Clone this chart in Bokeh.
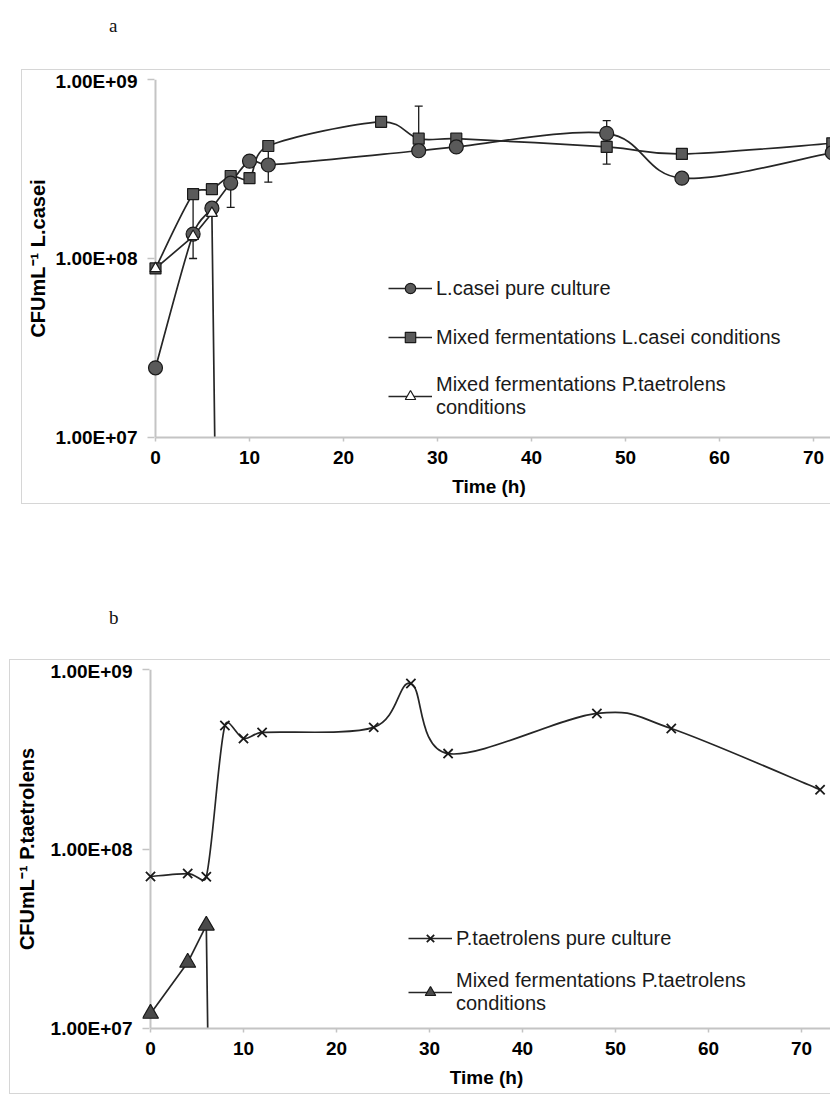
import numpy as np
from bokeh.plotting import figure
from bokeh.models import (Range1d, FixedTicker, SingleIntervalTicker, CustomJSTickFormatter,
                          Legend, LegendItem, Whisker, ColumnDataSource, Div, Span)
from bokeh.layouts import column
from bokeh.embed import file_html
from bokeh.resources import INLINE

# ---------------- data : panel a (L. casei counts, CFU/mL) ----------------
a_time_pure = [0, 4, 6, 8, 10, 12, 28, 32, 48, 56, 72]
a_lcasei_pure = [2.45e7, 1.37e8, 1.91e8, 2.64e8, 3.5e8, 3.33e8, 4.0e8, 4.2e8, 5.0e8, 2.81e8, 3.9e8]

a_time_mixed_lc = [0, 4, 6, 8, 10, 12, 24, 28, 32, 48, 56, 72]
a_lcasei_mixed_lc = [8.8e7, 2.29e8, 2.44e8, 2.89e8, 2.81e8, 4.25e8, 5.8e8, 4.67e8, 4.67e8, 4.2e8, 3.84e8, 4.4e8]

# last value: no viable count (drawn as 1 CFU/mL, far below the axis)
a_time_mixed_pt = [0, 4, 6, 8]
a_lcasei_mixed_pt = [8.8e7, 1.33e8, 1.79e8, 1.0]

a_err_time_pure = [4, 8, 12, 48]
a_err_low_pure = [1.0e8, 1.93e8, 2.67e8, 4.5e8]
a_err_high_pure = [2.2e8, 2.96e8, 4.0e8, 5.89e8]

a_err_time_mixed = [28, 48]
a_err_low_mixed = [4.3e8, 3.37e8]
a_err_high_mixed = [7.1e8, 4.6e8]

# ---------------- data : panel b (P. taetrolens counts, CFU/mL) ----------------
b_time_pure = [0, 4, 6, 8, 10, 12, 24, 28, 32, 48, 56, 72]
b_ptaet_pure = [7.03e7, 7.3e7, 7.0e7, 4.88e8, 4.13e8, 4.46e8, 4.76e8, 8.36e8, 3.4e8, 5.69e8, 4.69e8, 2.14e8]

b_time_mixed = [0, 4, 6, 8]
b_ptaet_mixed = [1.21e7, 2.33e7, 3.75e7, 1.0]

y_ticks = [1e7, 1e8, 1e9]

legend_a = ["L.casei pure culture",
            "Mixed fermentations L.casei conditions",
            "Mixed fermentations P.taetrolens\nconditions"]
legend_b = ["P.taetrolens pure culture",
            "Mixed fermentations P.taetrolens\nconditions"]
ytitle_a = "CFUmL\u207b\u00b9 L.casei"
ytitle_b = "CFUmL\u207b\u00b9 P.taetrolens"

FONT = "Liberation Sans"
LINE = "#262626"
EDGE = "#1a1a1a"
GREY = "#5a5a5a"
AXIS = "#c4c4c4"


def smooth(ts, vs, kx, ky):
    """Bezier control points for an Excel-like smoothed line (computed in screen-proportional space)."""
    X = np.asarray(ts, float) * kx
    Y = np.log10(np.asarray(vs, float)) * ky
    P = np.column_stack([X, Y])
    n = len(P)
    out = {k: [] for k in ("x0", "y0", "x1", "y1", "cx0", "cy0", "cx1", "cy1")}
    for i in range(n - 1):
        p0, p1, p2, p3 = P[max(i - 1, 0)], P[i], P[i + 1], P[min(i + 2, n - 1)]
        d12 = np.hypot(*(p2 - p1))
        d02 = np.hypot(*(p2 - p0))
        d13 = np.hypot(*(p3 - p1))
        f1 = min(1 / 6, d12 / (2 * d02)) if d02 > 0 else 0.0
        f2 = min(1 / 6, d12 / (2 * d13)) if d13 > 0 else 0.0
        c1 = p1 + (p2 - p0) * f1
        c2 = p2 - (p3 - p1) * f2
        for (kxk, kyk), pt in zip((("x0", "y0"), ("cx0", "cy0"), ("cx1", "cy1"), ("x1", "y1")),
                                  (p1, c1, c2, p2)):
            out[kxk].append(pt[0] / kx)
            out[kyk].append(10 ** (pt[1] / ky))
    return ColumnDataSource(out)


def make_fig(width, height, left, bottom, x_start, x_end, ytitle, ytitle_standoff):
    p = figure(width=width, height=height, x_range=Range1d(x_start, x_end),
               y_range=Range1d(1e7, 1e9), y_axis_type="log",
               output_backend="svg", toolbar_location=None,
               min_border_left=left, min_border_right=0, min_border_top=9,
               min_border_bottom=bottom)
    p.frame_align = False
    p.outline_line_color = None
    p.grid.visible = False
    p.background_fill_color = "white"
    p.border_fill_color = "white"

    ya = p.yaxis[0]
    ya.ticker = FixedTicker(ticks=y_ticks, minor_ticks=[])
    ya.formatter = CustomJSTickFormatter(
        code="const e = Math.round(Math.log10(tick)); return '1.00E+' + (e < 10 ? '0' : '') + e;")
    ya.axis_line_color = None
    ya.major_tick_out = 0
    ya.major_tick_in = 7
    ya.major_label_standoff = 10
    ya.axis_label = ytitle
    ya.axis_label_standoff = ytitle_standoff
    ya.axis_label_text_font_size = "20px"

    xa = p.xaxis[0]
    xa.ticker = SingleIntervalTicker(interval=10, num_minor_ticks=0)
    xa.bounds = (0, 80)
    xa.axis_line_color = AXIS
    xa.axis_line_width = 2
    xa.major_tick_out = 4
    xa.major_tick_in = 0
    xa.major_label_standoff = 9
    xa.axis_label = "Time (h)"
    xa.axis_label_standoff = 9
    xa.axis_label_text_font_size = "19px"

    for ax in (xa, ya):
        ax.major_tick_line_color = AXIS
        ax.major_tick_line_width = 1.5
        ax.minor_tick_line_color = None
        ax.major_label_text_font = FONT
        ax.major_label_text_font_style = "bold"
        ax.major_label_text_font_size = "19px"
        ax.major_label_text_color = "#000000"
        ax.axis_label_text_font = FONT
        ax.axis_label_text_font_style = "bold"
        ax.axis_label_text_color = "#000000"

    # vertical value axis line drawn at t = 0
    p.add_layout(Span(location=0, dimension="height", line_color=AXIS, line_width=2, level="underlay"))
    return p


def whisker(p, ts, lo, hi):
    src = ColumnDataSource(dict(t=ts, lo=lo, hi=hi))
    w = Whisker(base="t", lower="lo", upper="hi", source=src, dimension="height",
                line_color=EDGE, line_width=1.3, level="underlay")
    for h in (w.upper_head, w.lower_head):
        h.size = 8
        h.line_color = EDGE
        h.line_width = 1.3
    p.add_layout(w)


def style_legend(items, loc, spacing):
    return Legend(items=items, location=loc, padding=0, margin=0, spacing=spacing,
                  glyph_width=44, glyph_height=26, label_height=20, label_standoff=4,
                  border_line_color=None, background_fill_alpha=0,
                  label_text_font=FONT, label_text_font_size="20px", label_text_color="#1a1a1a")


def bez(p, src):
    return p.bezier(x0="x0", y0="y0", x1="x1", y1="y1", cx0="cx0", cy0="cy0", cx1="cx1", cy1="cy1",
                    source=src, line_color=LINE, line_width=1.7)


# ---------------- panel a ----------------
pa = make_fig(808, 433, 125, 66, -0.851, 71.81, ytitle_a, 4)
KXa, KYa = 9.4, 178.0

r_sq_line = bez(pa, smooth(a_time_mixed_lc, a_lcasei_mixed_lc, KXa, KYa))
r_ci_line = bez(pa, smooth(a_time_pure, a_lcasei_pure, KXa, KYa))
r_tr_line = pa.line(a_time_mixed_pt, a_lcasei_mixed_pt, line_color=LINE, line_width=1.7)

whisker(pa, a_err_time_pure, a_err_low_pure, a_err_high_pure)
whisker(pa, a_err_time_mixed, a_err_low_mixed, a_err_high_mixed)

r_sq = pa.scatter(a_time_mixed_lc, a_lcasei_mixed_lc, marker="square", size=11,
                  fill_color=GREY, line_color=EDGE, line_width=1.2)
r_ci = pa.scatter(a_time_pure, a_lcasei_pure, marker="circle", size=14,
                  fill_color=GREY, line_color=EDGE, line_width=1.2)
r_tr = pa.scatter(a_time_mixed_pt, a_lcasei_mixed_pt, marker="triangle", size=11,
                  fill_color="white", line_color=EDGE, line_width=1.2)

pa.add_layout(style_legend([
    LegendItem(label=legend_a[0], renderers=[r_ci_line, r_ci]),
    LegendItem(label=legend_a[1], renderers=[r_sq_line, r_sq]),
    LegendItem(label=legend_a[2], renderers=[r_tr_line, r_tr]),
], (241, 18), 23))

pa.margin = (0, 0, 0, 22)
pa.styles = {"outline": "1px solid #d6d6d6"}

# ---------------- panel b ----------------
pb = make_fig(820, 433, 132, 65, -0.86, 73.12, ytitle_b, 10)
KXb, KYb = 9.3, 179.5

r_x_line = bez(pb, smooth(b_time_pure, b_ptaet_pure, KXb, KYb))
r_bt_line = pb.line(b_time_mixed, b_ptaet_mixed, line_color=LINE, line_width=1.7)

r_x = pb.scatter(b_time_pure, b_ptaet_pure, marker="x", size=13,
                 line_color=EDGE, line_width=1.8)
r_bt = pb.scatter(b_time_mixed, b_ptaet_mixed, marker="triangle", size=16,
                  fill_color="#4a4a4a", line_color=EDGE, line_width=1.2)

pb.add_layout(style_legend([
    LegendItem(label=legend_b[0], renderers=[r_x_line, r_x]),
    LegendItem(label=legend_b[1], renderers=[r_bt_line, r_bt]),
], (266, 13), 18))

pb.margin = (0, 0, 0, 10)
pb.styles = {"outline": "1px solid #d6d6d6"}

# ---------------- panel letters ----------------
div_a = Div(text='<div style="margin-left:109px; margin-top:16px; font-family:\'Liberation Serif\'; '
                 'font-size:19px; line-height:20px; color:#111;">a</div>',
            width=200, height=70, margin=(0, 0, 0, 0))
div_b = Div(text='<div style="margin-left:109px; margin-top:105px; font-family:\'Liberation Serif\'; '
                 'font-size:19px; line-height:20px; color:#111;">b</div>',
            width=200, height=157, margin=(0, 0, 0, 0))

layout = column(div_a, pa, div_b, pb, spacing=0)

open("out.html", "w").write(file_html(layout, INLINE))
